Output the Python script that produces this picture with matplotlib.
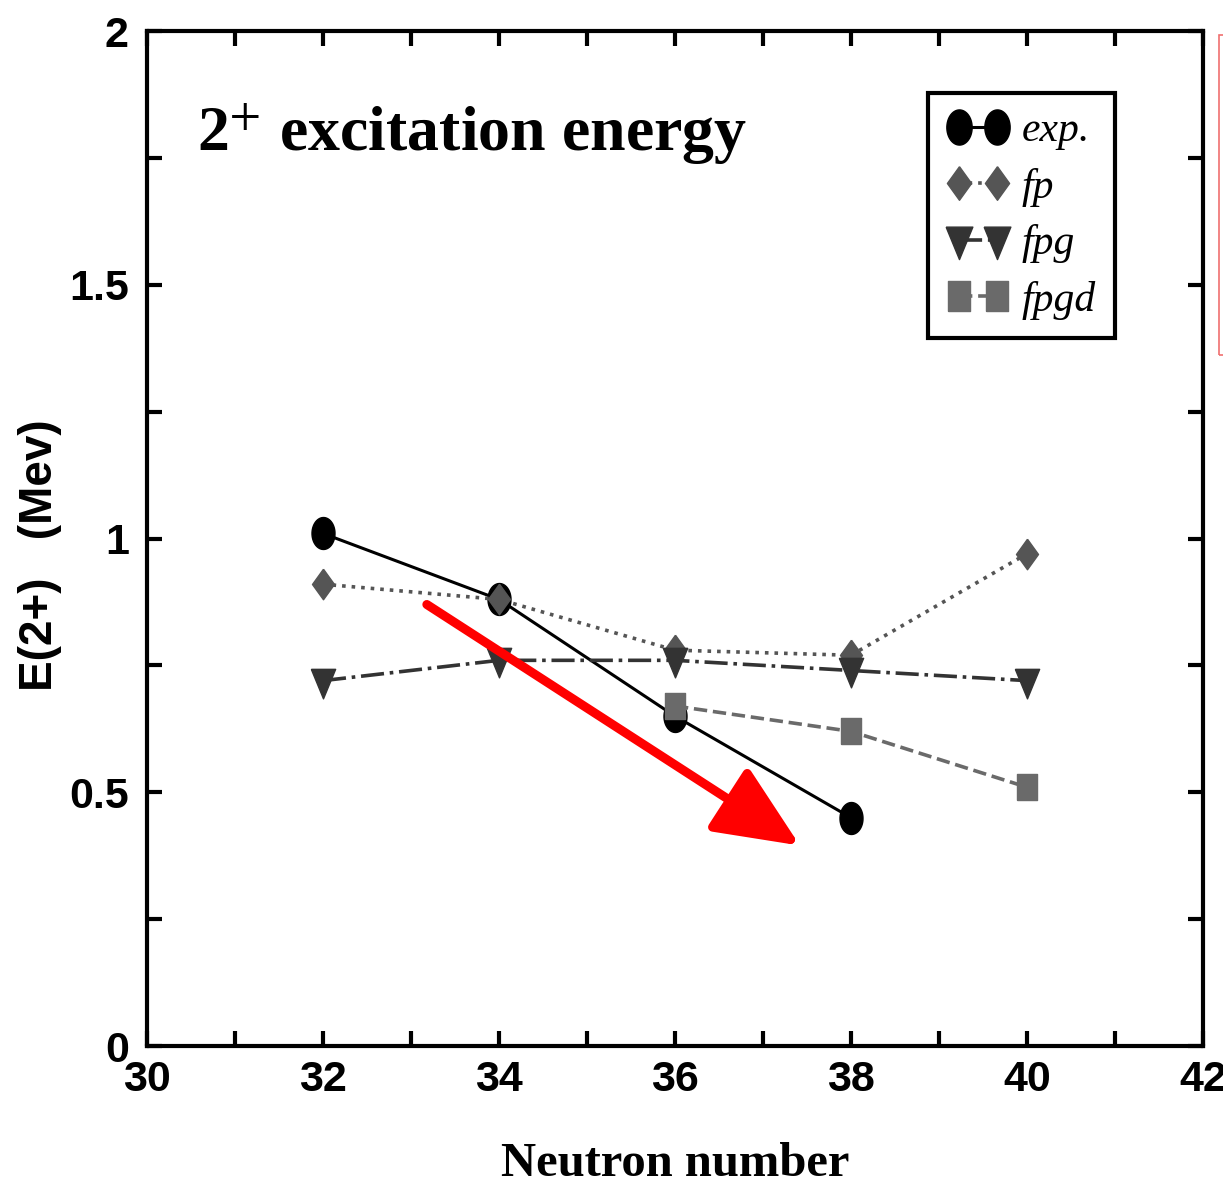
import numpy as np
import matplotlib
matplotlib.use("Agg")
import matplotlib.pyplot as plt
from matplotlib.patches import Rectangle

plt.rcParams['mathtext.fontset'] = 'stix'

# data
n_exp = [32, 34, 36, 38]
e_exp = [1.01, 0.88, 0.65, 0.45]
n_fp = [32, 34, 36, 38, 40]
e_fp = [0.91, 0.88, 0.78, 0.77, 0.97]
n_fpg = [32, 34, 36, 38, 40]
e_fpg = [0.72, 0.76, 0.76, 0.74, 0.72]
n_fpgd = [36, 38, 40]
e_fpgd = [0.67, 0.62, 0.51]
labels = ['exp.', 'fp', 'fpg', 'fpgd']
xticks = [30, 32, 34, 36, 38, 40, 42]
yticks = [0, 0.5, 1, 1.5, 2]
yticklabels = ['0', '0.5', '1', '1.5', '2']
arrow_start = (33.18, 0.87)
arrow_end = (37.42, 0.395)

# tall markers (the original picture is stretched vertically)
t = np.linspace(0, 2*np.pi, 60)
ellipse = np.column_stack([0.72*np.cos(t), np.sin(t)])
diamond = [(0, 1), (0.72, 0), (0, -1), (-0.72, 0), (0, 1)]
tri_down = [(-0.7, 0.7), (0.7, 0.7), (0, -1), (-0.7, 0.7)]
tall_sq = [(-0.75, -1), (0.75, -1), (0.75, 1), (-0.75, 1), (-0.75, -1)]

fig = plt.figure(figsize=(12.23, 11.88), dpi=100)
ax = fig.add_axes([0.1202, 0.1195, 0.8634, 0.8544])

ax.plot(n_exp, e_exp, '-', color='black', lw=2.2, marker=ellipse, ms=23,
        mfc='black', mec='black', label=labels[0], zorder=3)
ax.plot(n_fp, e_fp, ':', color='#555555', lw=2.6, marker=diamond, ms=22,
        mfc='#555555', mec='#555555', label=labels[1], zorder=4)
ax.plot(n_fpg, e_fpg, '-.', color='#333333', lw=2.6, marker=tri_down, ms=25,
        mfc='#333333', mec='#333333', label=labels[2], zorder=5)
ax.plot(n_fpgd, e_fpgd, '--', color='#6a6a6a', lw=2.6, marker=tall_sq, ms=19,
        mfc='#6a6a6a', mec='#6a6a6a', label=labels[3], zorder=6)

ax.annotate('', xy=arrow_end, xytext=arrow_start,
            arrowprops=dict(arrowstyle='-|>,head_length=2.6,head_width=1.15',
                            lw=6.5, color='red', mutation_scale=20,
                            shrinkA=0, shrinkB=0), zorder=10)

ax.set_xlim(30, 42)
ax.set_ylim(0, 2)
ax.set_xticks(xticks)
ax.set_xticks(np.arange(30, 43, 1), minor=True)
ax.set_yticks(yticks)
ax.set_yticklabels(yticklabels)
ax.set_yticks(np.arange(0, 2.01, 0.25), minor=True)
ax.tick_params(which='both', direction='in', top=True, right=True, width=3, length=11)
ax.tick_params(axis='x', which='major', pad=10)
ax.tick_params(axis='y', which='major', pad=13)
for lab in ax.get_xticklabels() + ax.get_yticklabels():
    lab.set_fontfamily('Liberation Sans')
    lab.set_fontweight('bold')
    lab.set_fontsize(31)
for s in ax.spines.values():
    s.set_linewidth(3)

ax.set_xlabel('Neutron number', fontfamily='Liberation Serif', fontweight='bold',
              fontsize=35, labelpad=30)
ax.set_ylabel('E(2+)   (Mev)', fontfamily='Liberation Sans', fontweight='bold',
              fontsize=33)
ax.yaxis.set_label_coords(-0.0805, 0.484)

ax.text(0.047, 0.882, r'2$^{+}$ excitation energy', transform=ax.transAxes,
        fontfamily='Liberation Serif', fontweight='bold', fontsize=46)

leg = ax.legend(loc='upper left', bbox_to_anchor=(0.7396, 0.939), borderaxespad=0,
                numpoints=2, handlelength=1.5, handletextpad=0.3, labelspacing=0.42,
                borderpad=0.45, fancybox=False, framealpha=1, markerscale=1.1,
                prop={'family': 'Liberation Serif', 'style': 'italic', 'size': 30})
leg.get_frame().set_edgecolor('black')
leg.get_frame().set_linewidth(3)

fig.patches.append(Rectangle((1219/1223, 1 - 355/1188), 0.05, 320/1188,
                             transform=fig.transFigure, fill=False,
                             edgecolor='#f07070', lw=1.2))

fig.savefig('out.png', dpi=100)
